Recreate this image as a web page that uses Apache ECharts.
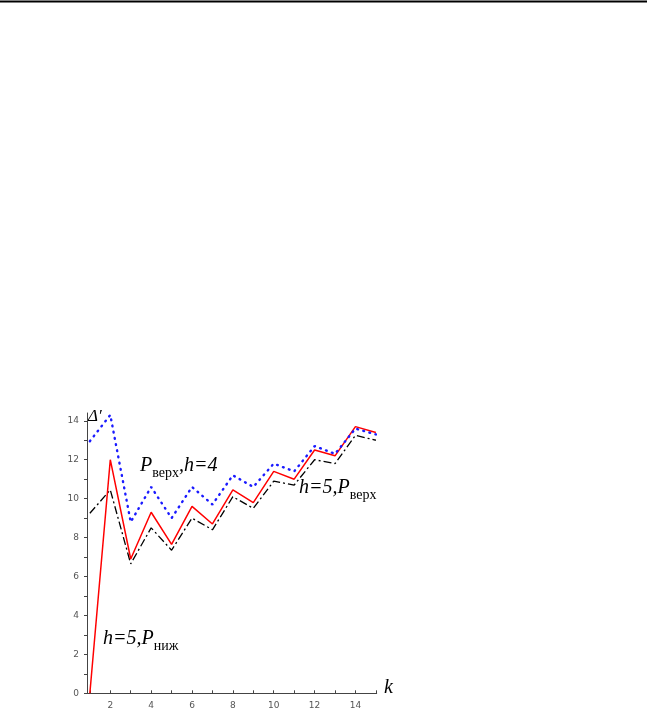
<!DOCTYPE html>
<html>
<head>
<meta charset="utf-8">
<script src="https://cdn.jsdelivr.net/npm/echarts@6/dist/echarts.min.js"></script>
<style>html,body{margin:0;padding:0;background:#fff}#c{width:647px;height:716px}</style>
</head>
<body>
<div id="c"></div>
<script>
var kValues = [1,2,3,4,5,6,7,8,9,10,11,12,13,14,15];
var redValues = [0,12.0,6.9,9.3,7.65,9.6,8.7,10.45,9.8,11.4,11.0,12.5,12.2,13.7,13.4];
var blueValues = [12.95,14.3,8.8,10.6,9.0,10.6,9.7,11.2,10.6,11.8,11.4,12.7,12.3,13.6,13.3];
var blackValues = [9.25,10.45,6.65,8.5,7.35,9.0,8.4,10.1,9.5,10.9,10.7,12.0,11.8,13.25,13.0];
var xTickLabels = [2,4,6,8,10,12,14];
var yTickLabels = [0,2,4,6,8,10,12,14];
var xMinorTicks = [1,2,3,4,5,6,7,8,9,10,11,12,13,14,15];
var yMinorTicks = [0,1,2,3,4,5,6,7,8,9,10,11,12,13,14];

function pairs(vals){ return kValues.map(function(k,i){ return [k, vals[i]]; }); }

var chart = echarts.init(document.getElementById('c'), null, {renderer:'canvas'});
var serif = '"Liberation Serif","DejaVu Serif",serif';
var labelFont = {fontFamily:'"DejaVu Sans",sans-serif', fontSize:9, color:'#555'};
function rich(){
  return {
    m:{fontFamily:serif, fontStyle:'italic', fontSize:20, color:'#000', verticalAlign:'bottom', lineHeight:22},
    s:{fontFamily:serif, fontSize:14, color:'#000', verticalAlign:'bottom', lineHeight:22, padding:[0,0,-4,0]}
  };
}
chart.setOption({
  animation:false,
  grid:{left:87, right:270.3, top:413, bottom:22.7, containLabel:false},
  xAxis:{type:'value', min:0.86, max:15.04,
    axisLine:{show:true, onZero:false, lineStyle:{color:'#444', width:1}},
    axisTick:{show:true, customValues:xMinorTicks, length:3, inside:true, lineStyle:{color:'#444'}},
    axisLabel:Object.assign({customValues:xTickLabels, margin:8}, labelFont),
    splitLine:{show:false}},
  yAxis:{type:'value', min:0, max:14.4,
    axisLine:{show:true, onZero:false, lineStyle:{color:'#444', width:1}},
    axisTick:{show:true, customValues:yMinorTicks, length:3, lineStyle:{color:'#444'}},
    axisLabel:Object.assign({customValues:yTickLabels, margin:8}, labelFont),
    splitLine:{show:false}},
  series:[
    {type:'line', data:pairs(blackValues), symbol:'none', z:2,
      lineStyle:{color:'#000', width:1.3, type:[8,3,2,3]}},
    {type:'line', data:pairs(redValues), symbol:'none', z:3,
      lineStyle:{color:'#ff0000', width:1.5}},
    {type:'line', data:pairs(blueValues), symbol:'none', z:4,
      lineStyle:{color:'#1a1aff', width:2.4, type:[0.8,5.5], cap:'round'}}
  ],
  graphic:[
    {type:'line', shape:{x1:0,y1:1.5,x2:647,y2:1.5}, style:{stroke:'#000', lineWidth:2}},
    {type:'text', left:88, top:408, style:{text:'Δ′', font:'italic 17px '+serif, fill:'#000'}},
    {type:'text', left:384, top:678, style:{text:'k', font:'italic 20px '+serif, fill:'#000'}},
    {type:'text', left:140, top:456, style:{text:'{m|P}{s|верх}{m|,h=4}', rich:rich()}},
    {type:'text', left:299, top:478, style:{text:'{m|h=5,P}{s|верх}', rich:rich()}},
    {type:'text', left:103, top:629, style:{text:'{m|h=5,P}{s|ниж}', rich:rich()}}
  ]
});
</script>
</body>
</html>
